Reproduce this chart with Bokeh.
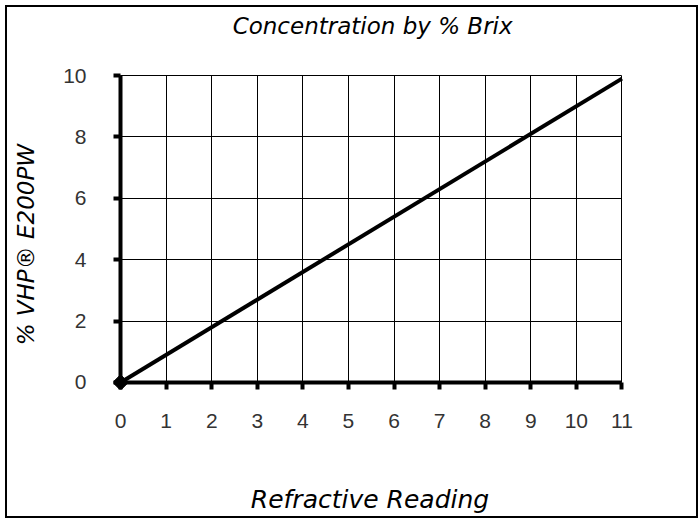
import math
from bokeh.plotting import figure
from bokeh.models import Range1d, FixedTicker, Grid, Label
from bokeh.embed import file_html
from bokeh.resources import INLINE

# data
reading = [0, 11]
concentration = [0, 9.9]
x_ticks = list(range(0, 12))
y_ticks = [0, 2, 4, 6, 8, 10]
title_text = "Concentration by % Brix"
x_label = "Refractive Reading"
y_label = "% VHP\u00ae E200PW"

p = figure(width=699, height=519, output_backend="svg", toolbar_location=None, title=None,
           x_range=Range1d(-0.155, 11.1), y_range=Range1d(-0.23, 10.1),
           min_border_left=113, min_border_right=73, min_border_top=72, min_border_bottom=130)
p.outline_line_color = None

TEXT_FONT = "DejaVu Sans"

# title and y label as free text placed in the side panels (not clipped to the grid)
p.add_layout(Label(x=5.53, y=11.63, text=title_text, text_align="center", text_baseline="middle",
                   text_font=TEXT_FONT, text_font_style="italic", text_font_size="23px",
                   text_color="black"), "above")
p.add_layout(Label(x=-2.08, y=4.49, text=y_label, angle=math.pi / 2, text_align="center",
                   text_baseline="middle", text_font=TEXT_FONT, text_font_style="italic",
                   text_font_size="23px", text_color="black"), "left")

for ax in (p.xaxis, p.yaxis):
    ax.axis_line_color = None
    ax.major_tick_line_width = 4
    ax.major_tick_line_color = "black"
    ax.major_tick_out = 0
    ax.major_tick_in = 7
    ax.minor_tick_line_color = None
    ax.major_label_text_font = "Liberation Sans"
    ax.major_label_text_font_size = "21px"
    ax.major_label_text_color = "#333333"
    ax.axis_label_text_font = TEXT_FONT
    ax.axis_label_text_font_style = "italic"
    ax.axis_label_text_font_size = "25px"
    ax.axis_label_text_color = "black"

p.xaxis.ticker = FixedTicker(ticks=x_ticks)
p.yaxis.ticker = FixedTicker(ticks=y_ticks)
p.xaxis.major_label_standoff = 24
p.yaxis.major_label_standoff = 27
p.xaxis.axis_label = x_label
p.xaxis.axis_label_standoff = 54

p.xgrid.ticker = FixedTicker(ticks=x_ticks)
p.ygrid.ticker = FixedTicker(ticks=y_ticks)
p.xgrid.cross_bounds = (y_ticks[0], y_ticks[-1])
p.ygrid.cross_bounds = (x_ticks[0], x_ticks[-1])
for g in (p.xgrid, p.ygrid):
    g.grid_line_color = "black"
    g.grid_line_width = 1

# heavy axis lines at x=0 and y=0
p.add_layout(Grid(dimension=0, ticker=FixedTicker(ticks=[x_ticks[0]]),
                  cross_bounds=(y_ticks[0], y_ticks[-1]),
                  grid_line_color="black", grid_line_width=4, level="overlay"))
p.add_layout(Grid(dimension=1, ticker=FixedTicker(ticks=[y_ticks[0]]),
                  cross_bounds=(x_ticks[0], x_ticks[-1]),
                  grid_line_color="black", grid_line_width=4, level="overlay"))

p.line(reading, concentration, line_width=4, line_color="black")
p.scatter(reading[:1], concentration[:1], marker="square", angle=math.pi / 4,
          size=11, color="black")

template = """
{% block postamble %}
<style>
body::after { content: ""; position: fixed; left: 5px; top: 5px; width: 693px; height: 513px;
  box-sizing: border-box; border: 2px solid #000; pointer-events: none; z-index: 1000; }
</style>
{% endblock %}
"""

open("out.html", "w").write(file_html(p, INLINE, template=template))
